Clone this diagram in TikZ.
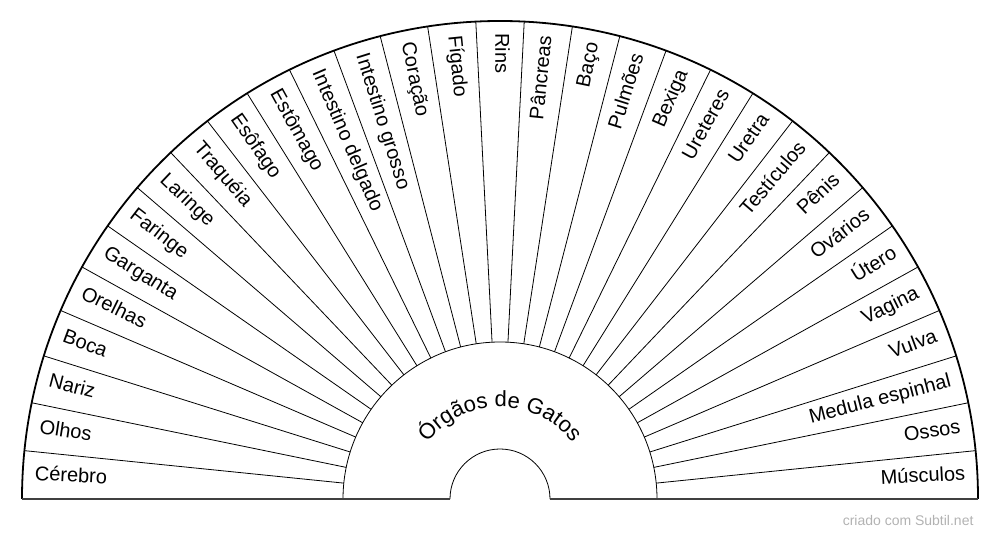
\documentclass[tikz,border=0pt]{standalone}
\usepackage{fontspec}
\setmainfont{Liberation Sans}
\usetikzlibrary{decorations.text,calc}
\begin{document}
\begin{tikzpicture}[x=1pt,y=1pt,
  lbl/.style={font=\fontsize{20}{23}\selectfont,inner sep=0pt}]
\useasboundingbox (0,0) rectangle (1000,540);
\coordinate (c) at (500,41);
\def\R{478}\def\Ri{157}\def\Rs{50}
% spokes
\foreach \i in {1,...,30}{
  \pgfmathsetmacro\a{180-\i*180/31}
  \draw[line width=0.8pt] ($(c)+(\a:\Ri)$) -- ($(c)+(\a:\R)$);
}
\draw[line width=0.8pt] ($(c)+(\Ri,0)$) arc (0:180:\Ri);
\draw[line width=0.8pt] ($(c)+(\Rs,0)$) arc (0:180:\Rs);
\draw[line width=1.8pt] ($(c)+(\R,0)$) arc (0:180:\R);
\draw[line width=1.5pt,black!75] ($(c)+(-\R,0)$) -- ($(c)+(-\Rs,0)$);
\draw[line width=1.5pt,black!75] ($(c)+(\Rs,0)$) -- ($(c)+(\R,0)$);
% labels
\foreach \t [count=\i from 0] in {Cérebro,Olhos,Nariz,Boca,Orelhas,Garganta,Faringe,Laringe,Traquéia,Esôfago,Estômago,Intestino delgado,Intestino grosso,Coração,Fígado,Rins}{
  \pgfmathsetmacro\a{180-(\i+0.5)*180/31}
  \node[lbl,anchor=west,rotate=\a-180] at ($(c)+(\a:466)$) {\strut\t};
}
\foreach \t [count=\i from 16] in {Pâncreas,Baço,Pulmões,Bexiga,Ureteres,Uretra,Testículos,Pênis,Ovários,Útero,Vagina,Vulva,Medula espinhal,Ossos,Músculos}{
  \pgfmathsetmacro\a{180-(\i+0.5)*180/31}
  \node[lbl,anchor=east,rotate=\a] at ($(c)+(\a:466)$) {\strut\t};
}
\path[decorate,decoration={text along path,text align=center,
  text={|\fontsize{22}{24}\selectfont|Órgãos de Gatos}}]
  ($(c)+(165:92)$) arc (165:15:92);
\node[anchor=east,font=\fontsize{14}{16}\selectfont,text=black!30] (wm) at (977,20) {criado com Subtil.net};
\end{tikzpicture}
\end{document}
